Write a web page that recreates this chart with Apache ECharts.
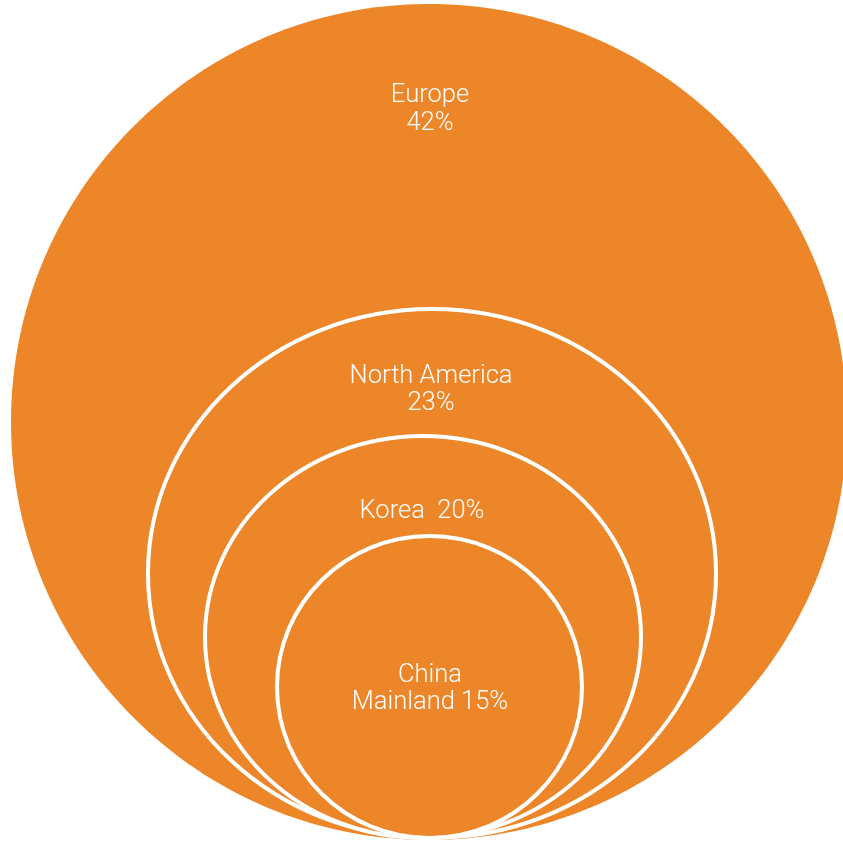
<!DOCTYPE html>
<html>
<head>
<meta charset="utf-8">
<script src="https://cdn.jsdelivr.net/npm/echarts@6/dist/echarts.min.js"></script>
<style>
html,body{margin:0;padding:0;background:#fff;}
#main{width:843px;height:842px;}
</style>
</head>
<body>
<div id="main"></div>
<script>
// ---- data ----
const regions = ['Europe', 'North America', 'Korea', 'China\nMainland'];
const shares = [42, 23, 20, 15];
const labelJoin = ['\n', '\n', '  ', ' '];

// ---- layout (axis units: x centred on 0, y measured up from common baseline) ----
const layout = {
  cx:     [7.5, 10.5, 1.5, 8],
  rx:     [418, 286, 220, 154.5],
  ry:     [418, 266.5, 203, 153],
  labelX: [8.5, 9.5, 0.5, 8.5],
  labelY: [730.5, 450, 328, 151],
  border: [0, 4, 4, 4]
};

const ORANGE = '#ED8629';
const seriesData = regions.map((r, i) => ({ name: r, value: [i, shares[i]] }));

const chart = echarts.init(document.getElementById('main'), null, { renderer: 'canvas' });
chart.setOption({
  animation: false,
  backgroundColor: '#ffffff',
  grid: { left: 0, right: 0, top: 0, bottom: 2 },
  xAxis: { type: 'value', min: -421.5, max: 421.5, show: false },
  yAxis: { type: 'value', min: 0, max: 840, show: false },
  series: [{
    type: 'custom',
    coordinateSystem: 'cartesian2d',
    data: seriesData,
    clip: false,
    renderItem: function (params, api) {
      const i = api.value(0);
      const c = api.coord([layout.cx[i], layout.ry[i]]);
      const s = api.size([layout.rx[i], layout.ry[i]]);
      const lp = api.coord([layout.labelX[i], layout.labelY[i]]);
      const bw = layout.border[i];
      return {
        type: 'group',
        children: [{
          type: 'ellipse',
          shape: { cx: c[0], cy: c[1], rx: s[0] - bw / 2, ry: s[1] - bw / 2 },
          style: { fill: ORANGE, stroke: bw ? '#ffffff' : null, lineWidth: bw }
        }, {
          type: 'text',
          x: lp[0], y: lp[1],
          style: {
            text: regions[i] + labelJoin[i] + shares[i] + '%',
            fill: '#ffffff',
            font: '300 25.5px Roboto, "Liberation Sans", sans-serif',
            align: 'center',
            verticalAlign: 'middle',
            lineHeight: 27.5
          }
        }]
      };
    }
  }]
});
</script>
</body>
</html>
